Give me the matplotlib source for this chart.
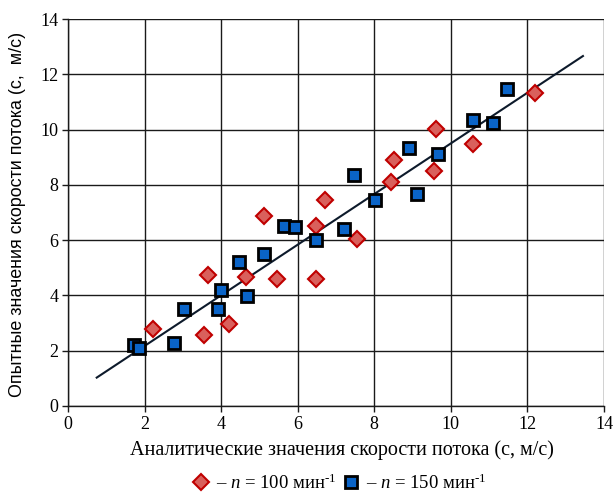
import numpy as np
import matplotlib
matplotlib.use("Agg")
import matplotlib.pyplot as plt
from matplotlib.lines import Line2D

plt.rcParams['font.family'] = ['Liberation Serif', 'DejaVu Serif']
plt.rcParams['mathtext.fontset'] = 'custom'
plt.rcParams['mathtext.rm'] = 'Liberation Serif'
plt.rcParams['mathtext.it'] = 'Liberation Serif:italic'

# n = 100 1/min
x_100 = [2.21, 3.55, 3.65, 4.21, 4.65, 5.12, 5.45, 6.48, 6.49, 6.71,
         7.54, 8.43, 8.51, 9.56, 9.62, 10.57, 12.21]
y_100 = [2.79, 2.57, 4.73, 2.96, 4.67, 6.87, 4.61, 4.58, 6.51, 7.45,
         6.05, 8.09, 8.90, 8.50, 10.01, 9.48, 11.34]

# n = 150 1/min
x_150 = [1.73, 1.85, 2.78, 3.03, 3.93, 3.99, 4.46, 4.67, 5.11, 5.63,
         5.93, 6.48, 7.20, 7.47, 8.03, 8.91, 9.12, 9.66, 10.58, 11.11, 11.47]
y_150 = [2.21, 2.10, 2.29, 3.50, 3.50, 4.20, 5.20, 3.98, 5.51, 6.50,
         6.48, 6.01, 6.39, 8.36, 7.44, 9.32, 7.67, 9.11, 10.35, 10.24, 11.47]

# linear trend line
trend_x = [0.75, 13.45]
trend_slope = 0.916
trend_intercept = 0.34

x_ticks = [0, 2, 4, 6, 8, 10, 12, 14]
y_ticks = [0, 2, 4, 6, 8, 10, 12, 14]

fig = plt.figure(figsize=(6.15, 4.92), dpi=100)
ax = fig.add_axes([68/615, 1 - 406/492, (604-68)/615, (406-19)/492])

ax.set_xlim(0, 14)
ax.set_ylim(0, 14)
ax.set_xticks(x_ticks)
ax.set_yticks(y_ticks)
ax.grid(True, color='#1a1a1a', linewidth=1.0)
ax.set_axisbelow(True)
for s in ['top', 'right']:
    ax.spines[s].set_visible(False)
for s in ['left', 'bottom']:
    ax.spines[s].set_color('#1a1a1a')
    ax.spines[s].set_linewidth(1.0)
ax.tick_params(axis='both', direction='out', length=4, width=1.0,
               color='#1a1a1a', labelsize=13, pad=3)

tx = np.array(trend_x)
ax.plot(tx, trend_slope * tx + trend_intercept, color='#0d1a2b',
        linewidth=1.5, zorder=2)

red_style = dict(linestyle='none', marker='D', markersize=8,
                 markerfacecolor='#d9605c', markeredgecolor='#c00000',
                 markeredgewidth=1.5)
blue_style = dict(linestyle='none', marker='s', markersize=8,
                  markerfacecolor='#0a64c8', markeredgecolor='#000000',
                  markeredgewidth=2.0)

ax.plot(x_100, y_100, zorder=3, **red_style)
ax.plot(x_150, y_150, zorder=4, **blue_style)

ax.set_xlabel('Аналитические значения скорости потока (с, м/с)',
              fontsize=14.5)
ax.xaxis.set_label_coords((342 - 68) / 536, (406 - 450) / 387)
ax.xaxis.label.set_va('center')
ax.set_ylabel('Опытные значения скорости потока (с,  м/с)',
              fontsize=12.9, family=['Liberation Sans', 'DejaVu Sans'])
ax.yaxis.set_label_coords((18 - 68) / 536, (406 - 214) / 387)
ax.yaxis.label.set_va('center')

h1 = Line2D([], [], **red_style)
h2 = Line2D([], [], **blue_style)
fig.legend([h1, h2],
           ['– $n$ = 100 мин$^{\\text{-}1}$', '– $n$ = 150 мин$^{\\text{-}1}$'],
           loc='center', bbox_to_anchor=(339 / 615, 1 - 483 / 492), ncol=2,
           frameon=False, fontsize=13.5, handlelength=1.0,
           handletextpad=0.3, columnspacing=0.3, borderpad=0)

fig.savefig('out.png', dpi=100)
